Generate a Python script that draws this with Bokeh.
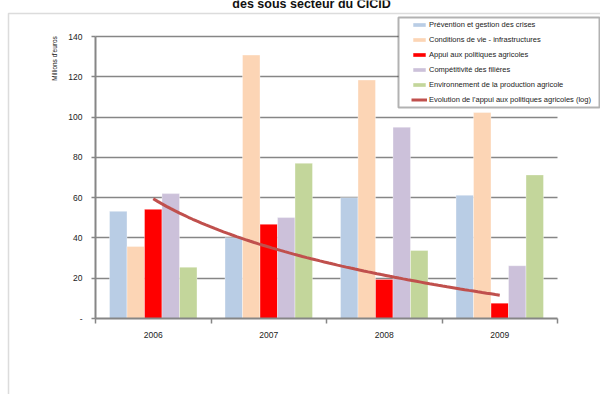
import numpy as np
from bokeh.plotting import figure
from bokeh.models import (ColumnDataSource, FixedTicker, Range1d, Legend, LegendItem,
                          BoxAnnotation, Label)
from bokeh.embed import file_html
from bokeh.resources import INLINE

# Aide par sous-secteur et par année
years = ["2006", "2007", "2008", "2009"]
series_names = [
    "Prévention et gestion des crises",
    "Conditions de vie - infrastructures",
    "Appui aux politiques agricoles",
    "Compétitivité des filières",
    "Environnement de la production agricole",
]
prevention = [53.2, 40.1, 60.0, 61.2]
conditions = [35.8, 130.8, 118.4, 102.3]
appui = [54.2, 46.8, 19.4, 7.6]
competitivite = [62.0, 50.1, 95.0, 26.2]
environnement = [25.5, 77.1, 33.8, 71.3]
trend_name = "Evolution de l'appui aux politiques agricoles (log)"
y_ticks = [0, 20, 40, 60, 80, 100, 120, 140]

colors = ["#B9CDE5", "#FCD5B5", "#FF0000", "#CCC1DA", "#C3D69B"]
values = [prevention, conditions, appui, competitivite, environnement]

FONT = "Liberation Sans"
GRID = "#868686"

W, H = 600, 394
# zone de tracé : x 95..557 px, y 36..318 px ; le cadre couvre toute la page
px_x = len(years) / (557 - 95)
px_y = 140 / (318 - 36)
x_range = Range1d(-95 * px_x, len(years) + (W - 557) * px_x)
y_range = Range1d(-(H - 318) * px_y, 140 + 36 * px_y)

p = figure(width=W, height=H, output_backend="svg", toolbar_location=None,
           x_range=x_range, y_range=y_range, min_border=0)
p.outline_line_color = None
p.background_fill_color = "white"
p.border_fill_color = "white"

# barres groupées
bar_w = 0.1515
centers = np.arange(len(years)) + 0.5
renderers = []
for k, (vals, col) in enumerate(zip(values, colors)):
    src = ColumnDataSource(dict(x=centers + (k - 2) * bar_w, top=vals))
    r = p.vbar(x="x", top="top", bottom=0, width=bar_w, source=src,
               fill_color=col, line_color="white", line_alpha=0.6, line_width=0.6)
    renderers.append(r)

# courbe de tendance logarithmique sur l'appui aux politiques agricoles
t = np.arange(1, len(years) + 1)
a, b = np.polyfit(np.log(t), appui, 1)
tt = np.linspace(1, len(years), 80)
trend = p.line(tt - 0.5, a * np.log(tt) + b, line_color="#C0504D", line_width=3)

# axes
p.yaxis.fixed_location = 0
p.yaxis.bounds = (0, 140)
p.yaxis.ticker = FixedTicker(ticks=y_ticks)
p.yaxis.major_label_overrides = {0: "-"}
p.yaxis.minor_tick_line_color = None
p.yaxis.major_tick_in = 0
p.yaxis.major_tick_out = 4
p.yaxis.axis_line_color = GRID
p.yaxis.axis_line_width = 2
p.yaxis.major_tick_line_color = GRID
p.yaxis.major_tick_line_width = 1.5
p.yaxis.major_label_text_font = FONT
p.yaxis.major_label_text_font_size = "8.5px"
p.yaxis.major_label_text_color = "#222222"
p.yaxis.major_label_standoff = 9

p.xaxis.fixed_location = 0
p.xaxis.bounds = (0, len(years))
p.xaxis.ticker = FixedTicker(ticks=list(centers), minor_ticks=list(range(len(years) + 1)))
p.xaxis.major_label_overrides = {float(c): y for c, y in zip(centers, years)}
p.xaxis.major_tick_line_color = None
p.xaxis.minor_tick_in = 0
p.xaxis.minor_tick_out = 5
p.xaxis.minor_tick_line_color = GRID
p.xaxis.minor_tick_line_width = 1.5
p.xaxis.axis_line_color = GRID
p.xaxis.axis_line_width = 2
p.xaxis.major_label_text_font = FONT
p.xaxis.major_label_text_font_size = "8.5px"
p.xaxis.major_label_text_color = "#222222"
p.xaxis.major_label_standoff = 7

p.xgrid.grid_line_color = None
p.ygrid.ticker = FixedTicker(ticks=y_ticks[1:])
p.ygrid.cross_bounds = (0, len(years))
p.ygrid.grid_line_color = GRID
p.ygrid.grid_line_width = 1.5

# cadre extérieur du graphique
p.add_layout(BoxAnnotation(left=8, right=700, top=13, bottom=600,
                           left_units="canvas", right_units="canvas",
                           top_units="canvas", bottom_units="canvas",
                           fill_alpha=0, line_color="#8a8a8a", line_width=1.5))

# titre (haut coupé par le bord de la page)
p.add_layout(Label(x=311, y=3, x_units="canvas", y_units="canvas",
                   text="des sous secteur du CICID", text_align="center",
                   text_baseline="alphabetic", text_font=FONT, text_font_style="bold",
                   text_font_size="12.5px", text_color="#111111"))

# titre de l'axe vertical
p.add_layout(Label(x=54, y=58, x_units="canvas", y_units="canvas",
                   text="Millions d'euros", angle=np.pi / 2, text_align="center",
                   text_baseline="middle", text_font=FONT, text_font_size="6.5px",
                   text_color="#111111"))

# cadre de la légende
p.add_layout(BoxAnnotation(left=398, right=599, top=17, bottom=107,
                           left_units="canvas", right_units="canvas",
                           top_units="canvas", bottom_units="canvas",
                           fill_color="white", fill_alpha=1,
                           line_color="black", line_width=2))

items = [LegendItem(label=n, renderers=[r]) for n, r in zip(series_names, renderers)]
items.append(LegendItem(label=trend_name, renderers=[trend]))
legend = Legend(items=items, location=(411, H - 105), padding=0, margin=0,
                spacing=3, label_height=12, glyph_height=5, glyph_width=16,
                label_standoff=2, label_text_font=FONT, label_text_font_size="7.5px",
                label_text_color="#222222", background_fill_alpha=0,
                border_line_color=None)
p.add_layout(legend, "center")

open("out.html", "w").write(file_html(p, INLINE))
